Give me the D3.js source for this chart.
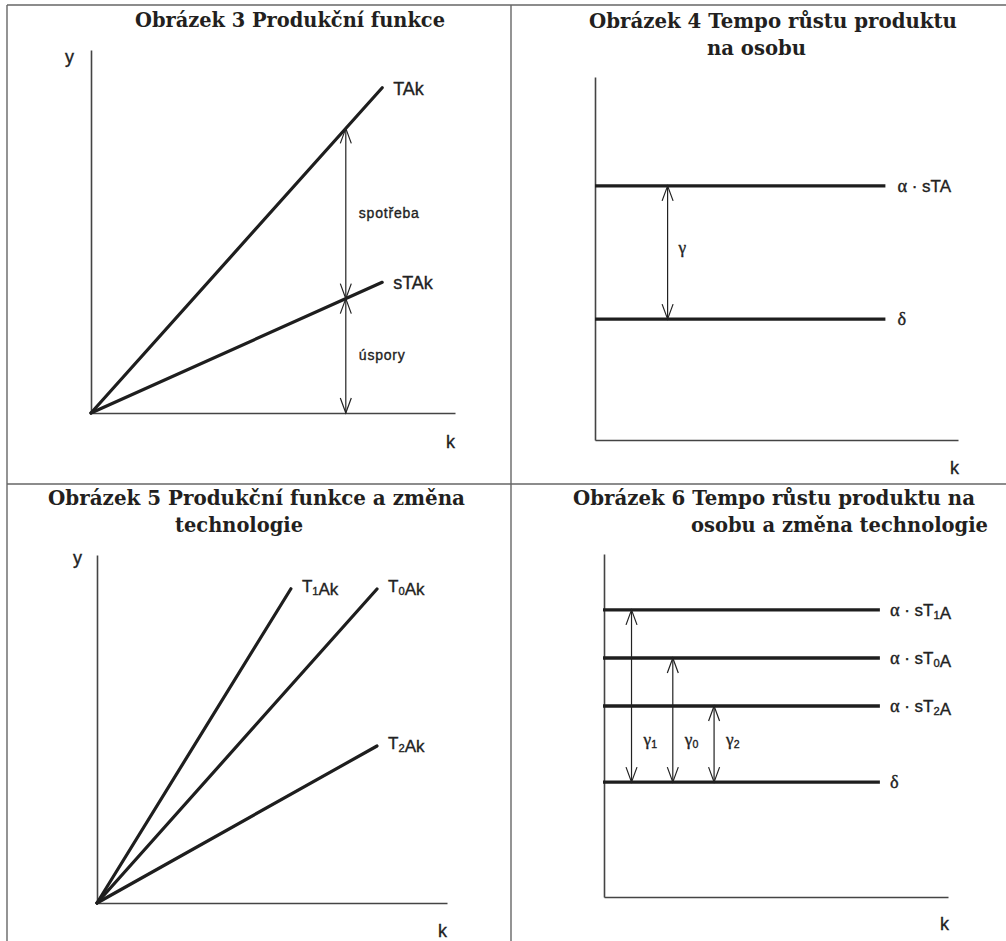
<!DOCTYPE html>
<html>
<head>
<meta charset="utf-8">
<script src="https://cdn.jsdelivr.net/npm/d3@7/dist/d3.min.js"></script>
<style>
  html, body { margin: 0; padding: 0; background: #fff; }
  svg { display: block; }
  .title { font-family: "DejaVu Serif", "Liberation Serif", serif; font-weight: bold; fill: #231f20; }
  .lab { font-family: "Liberation Sans", Arial, sans-serif; fill: #222; stroke: #222; stroke-width: 0.35px; }
  .greek { font-family: "Liberation Serif", "DejaVu Serif", serif; }
</style>
</head>
<body>
<svg id="chart" width="1006" height="941"></svg>
<script>
// ---- Figure 3: production function ----
const fig3Title = ["Obrázek 3 Produkční funkce"];
const fig3Lines = ["TAk", "sTAk"];
const fig3Slopes = [1.12, 0.45];
const fig3KEnd = [8, 8];
const fig3ArrowK = 7;
const fig3GapLabels = ["spotřeba", "úspory"];

// ---- Figure 4: growth rate of output per person ----
const fig4Title = ["Obrázek 4 Tempo růstu produktu", "na osobu"];
const fig4Lines = ["α · sTA", "δ"];
const fig4Levels = [7.0, 3.33];
const fig4ArrowK = 2;
const fig4GapLabel = "γ";

// ---- Figure 5: production function and technology change ----
const fig5Title = ["Obrázek 5 Produkční funkce a změna", "technologie"];
const fig5Lines = ["T_1Ak", "T_0Ak", "T_2Ak"];
const fig5Slopes = [1.63, 1.128, 0.564];
const fig5KEnd = [5.54, 8, 8];

// ---- Figure 6: growth rate and technology change ----
const fig6Title = ["Obrázek 6 Tempo růstu produktu na", "osobu a změna technologie"];
const fig6Lines = ["α · sT_1A", "α · sT_0A", "α · sT_2A", "δ"];
const fig6Levels = [8.37, 6.97, 5.57, 3.35];
const fig6LineKEnd = 8.02;
const fig6ArrowK = [0.8, 2.0, 3.2];
const fig6GapLabels = ["γ_1", "γ_0", "γ_2"];
const fig6GapLabelLevel = 4.55;

const svg = d3.select("#chart");
const INK = "#1e1e1e";
const AXIS = "#444";

// table grid
const grid = svg.append("g").attr("stroke", "#666").attr("stroke-width", 1.4);
grid.append("line").attr("x1", 7).attr("x2", 1006).attr("y1", 5).attr("y2", 5);
grid.append("line").attr("x1", 7).attr("x2", 1006).attr("y1", 484).attr("y2", 484);
grid.append("line").attr("x1", 7).attr("x2", 7).attr("y1", 5).attr("y2", 941);
grid.append("line").attr("x1", 511).attr("x2", 511).attr("y1", 5).attr("y2", 941);

// text with "_x" meaning subscript x; greek letters set in serif
function richText(sel, str, size) {
  const parts = str.split(/(_.)/);
  parts.forEach(p => {
    if (!p) return;
    if (p[0] === "_") {
      sel.append("tspan").attr("font-size", size * 0.66).attr("dy", size * 0.2).text(p[1]);
      sel.append("tspan").attr("dy", -size * 0.2).text("");
    } else {
      p.split(/([α-ω])/).forEach(q => {
        if (!q) return;
        const t = sel.append("tspan").text(q);
        if (/[α-ω]/.test(q)) t.attr("class", "greek").attr("font-size", size * 1.08);
      });
    }
  });
  return sel;
}

function titleLines(lines, specs) {
  lines.forEach((txt, i) => {
    const s = specs[i];
    svg.append("text").attr("class", "title")
      .attr("x", s.x).attr("y", s.y)
      .attr("font-size", 20)
      .attr("textLength", s.w).attr("lengthAdjust", "spacingAndGlyphs")
      .text(txt);
  });
}

function panelAxes(x, y, yLabel, kPos, yPos) {
  const [x0] = x.range();
  const [y0] = y.range();
  const g = svg.append("g");
  g.append("g").attr("transform", `translate(0,${y0})`)
    .call(d3.axisBottom(x).tickValues([]).tickSizeOuter(0));
  g.append("g").attr("transform", `translate(${x0},0)`)
    .call(d3.axisLeft(y).tickValues([]).tickSizeOuter(0));
  g.selectAll(".domain").attr("stroke", AXIS).attr("stroke-width", 1.6);
  svg.append("text").attr("class", "lab").attr("font-size", 18)
    .attr("x", kPos[0]).attr("y", kPos[1]).text("k");
  if (yLabel) svg.append("text").attr("class", "lab").attr("font-size", 18)
    .attr("x", yPos[0]).attr("y", yPos[1]).text("y");
}

// double arrow between two pixel heights at px
function dblArrow(px, yTop, yBot) {
  const g = svg.append("g").attr("fill", "none").attr("stroke", "#222").attr("stroke-width", 1.2);
  g.append("line").attr("x1", px).attr("x2", px).attr("y1", yTop).attr("y2", yBot);
  const hw = 5.5, hl = 15;
  g.append("path").attr("d", `M${px - hw},${yTop + hl}L${px},${yTop}L${px + hw},${yTop + hl}`);
  g.append("path").attr("d", `M${px - hw},${yBot - hl}L${px},${yBot}L${px + hw},${yBot - hl}`);
}

// ===== Figure 3 =====
{
  titleLines(fig3Title, [{ x: 135, y: 27, w: 310 }]);
  const x = d3.scaleLinear().domain([0, 10]).range([91, 455]);
  const y = d3.scaleLinear().domain([0, 10]).range([413, 50]);
  panelAxes(x, y, true, [446, 448], [65, 63]);
  const line = d3.line().x(d => x(d[0])).y(d => y(d[1]));
  fig3Lines.forEach((name, i) => {
    const pts = [[0, 0], [fig3KEnd[i], fig3Slopes[i] * fig3KEnd[i]]];
    svg.append("path").attr("d", line(pts)).attr("fill", "none")
      .attr("stroke", INK).attr("stroke-width", 3.2).attr("stroke-linecap", "round");
    richText(svg.append("text").attr("class", "lab").attr("font-size", 18)
      .attr("x", x(pts[1][0]) + 11).attr("y", y(pts[1][1]) + 7), name, 18);
  });
  const ax = x(fig3ArrowK);
  const yA = y(fig3Slopes[0] * fig3ArrowK), yB = y(fig3Slopes[1] * fig3ArrowK), yC = y(0);
  dblArrow(ax, yA, yB);
  dblArrow(ax, yB, yC);
  [[yA, yB], [yB, yC]].forEach((seg, i) => {
    svg.append("text").attr("class", "lab").attr("font-size", 14).attr("letter-spacing", 0.8)
      .attr("fill", "#333").attr("stroke-width", 0.2)
      .attr("x", ax + 13).attr("y", (seg[0] + seg[1]) / 2 + 4).text(fig3GapLabels[i]);
  });
}

// ===== Figure 4 =====
{
  titleLines(fig4Title, [{ x: 589, y: 28, w: 368 }, { x: 707, y: 55, w: 99 }]);
  const x = d3.scaleLinear().domain([0, 10]).range([595, 958]);
  const y = d3.scaleLinear().domain([0, 10]).range([440, 77]);
  panelAxes(x, y, false, [950, 474]);
  fig4Lines.forEach((name, i) => {
    svg.append("line").attr("x1", x(0)).attr("x2", x(8)).attr("y1", y(fig4Levels[i])).attr("y2", y(fig4Levels[i]))
      .attr("stroke", INK).attr("stroke-width", 3.4);
    richText(svg.append("text").attr("class", "lab").attr("font-size", 17)
      .attr("x", x(8) + 12).attr("y", y(fig4Levels[i]) + 6), name, 17);
  });
  const ax = x(fig4ArrowK);
  dblArrow(ax, y(fig4Levels[0]), y(fig4Levels[1]));
  richText(svg.append("text").attr("class", "lab").attr("font-size", 16).attr("fill", "#333").attr("stroke-width", 0.2)
    .attr("x", ax + 11).attr("y", (y(fig4Levels[0]) + y(fig4Levels[1])) / 2), fig4GapLabel, 16);
}

// ===== Figure 5 =====
{
  titleLines(fig5Title, [{ x: 48, y: 505, w: 417 }, { x: 175, y: 532, w: 128 }]);
  const x = d3.scaleLinear().domain([0, 10]).range([97, 447]);
  const y = d3.scaleLinear().domain([0, 10]).range([903, 555]);
  panelAxes(x, y, true, [438, 937], [73, 564]);
  const line = d3.line().x(d => x(d[0])).y(d => y(d[1]));
  fig5Lines.forEach((name, i) => {
    const pts = [[0, 0], [fig5KEnd[i], fig5Slopes[i] * fig5KEnd[i]]];
    svg.append("path").attr("d", line(pts)).attr("fill", "none")
      .attr("stroke", INK).attr("stroke-width", 3.2).attr("stroke-linecap", "round");
    richText(svg.append("text").attr("class", "lab").attr("font-size", 17)
      .attr("x", x(pts[1][0]) + 11).attr("y", y(pts[1][1]) + 3), name, 17);
  });
}

// ===== Figure 6 =====
{
  titleLines(fig6Title, [{ x: 573, y: 505, w: 402 }, { x: 691, y: 532, w: 297 }]);
  const x = d3.scaleLinear().domain([0, 10]).range([604, 948]);
  const y = d3.scaleLinear().domain([0, 10]).range([897, 554]);
  panelAxes(x, y, false, [940, 930]);
  fig6Lines.forEach((name, i) => {
    svg.append("line").attr("x1", x(0) - 1).attr("x2", x(fig6LineKEnd)).attr("y1", y(fig6Levels[i])).attr("y2", y(fig6Levels[i]))
      .attr("stroke", INK).attr("stroke-width", 3.4);
    richText(svg.append("text").attr("class", "lab").attr("font-size", 17)
      .attr("x", x(fig6LineKEnd) + 10).attr("y", y(fig6Levels[i]) + 6), name, 17);
  });
  const base = fig6Levels[fig6Levels.length - 1];
  fig6ArrowK.forEach((k, i) => {
    const ax = x(k);
    dblArrow(ax, y(fig6Levels[i]), y(base));
    richText(svg.append("text").attr("class", "lab").attr("font-size", 16).attr("fill", "#333").attr("stroke-width", 0.2)
      .attr("x", ax + 12).attr("y", y(fig6GapLabelLevel) + 4), fig6GapLabels[i], 16);
  });
}
</script>
</body>
</html>
